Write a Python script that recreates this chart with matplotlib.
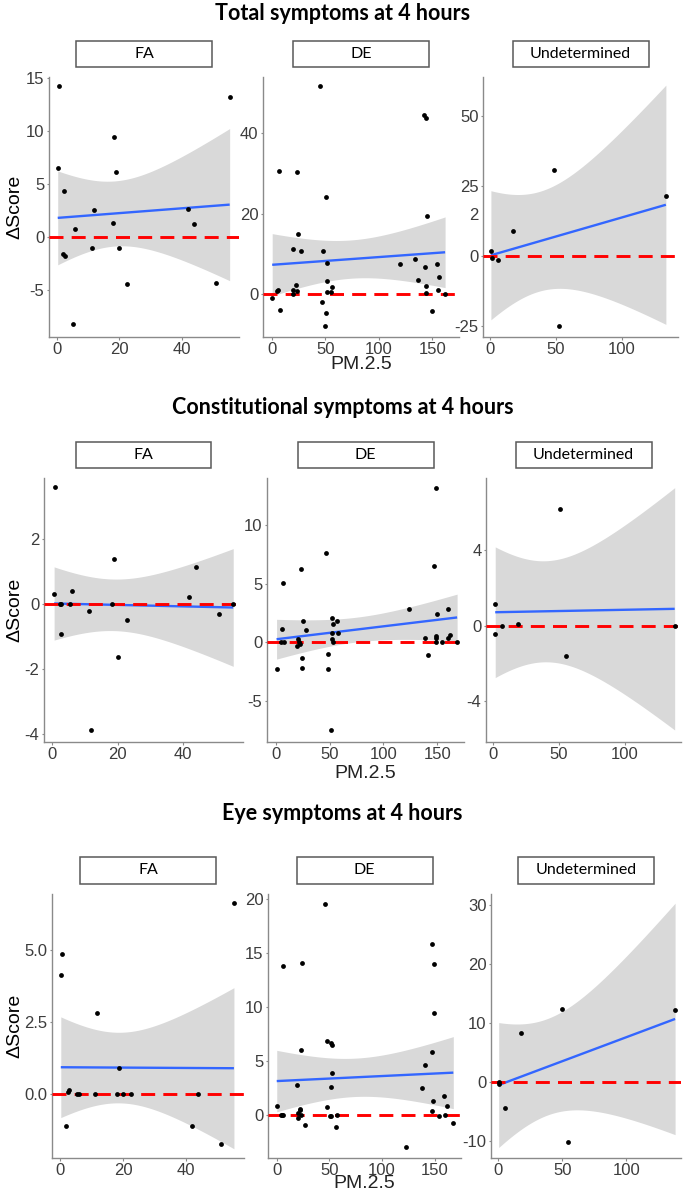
import math
import numpy as np
import matplotlib
matplotlib.use("Agg")
import matplotlib.pyplot as plt
from matplotlib.patches import Rectangle
from matplotlib.transforms import blended_transform_factory

# ---------------- data ----------------
titles = ["Total symptoms at 4 hours", "Constitutional symptoms at 4 hours", "Eye symptoms at 4 hours"]
groups = ["FA", "DE", "Undetermined"]
x_label = "PM.2.5"
y_label = "\u0394Score"

total_fa_x = [0.2, 0.7, 1.8, 2.3, 2.6, 5.1, 5.9, 11.2, 11.8, 18.1, 18.2, 18.8, 20.0, 22.5, 42.0, 43.8, 51.1, 55.4]
total_fa_y = [6.5, 14.2, -1.6, 4.3, -1.75, -8.2, 0.8, -1.0, 2.5, 1.3, 9.4, 6.1, -1.0, -4.4, 2.6, 1.2, -4.3, 13.2]
total_de_x = [0.3, 4.7, 5.6, 6.8, 7.8, 19.6, 19.6, 20.2, 22.4, 23.6, 23.9, 24.5, 27.0, 45.0, 47.2, 47.5, 49.5, 50.3,
              50.9, 51.2, 51.5, 51.9, 55.3, 56.2, 119.6, 134.2, 136.6, 142.5, 144.1, 145.0, 143.5, 144.4, 143.8,
              149.4, 154.3, 155.0, 156.5, 162.0]
total_de_y = [-1.0, 0.9, 1.2, 30.7, -3.9, 11.2, 0.0, 1.2, 2.2, 30.5, 0.9, 15.1, 10.8, 51.7, -1.8, 10.7, -7.9, -4.7,
              24.3, 0.6, 7.9, 3.2, 0.7, 1.9, 7.5, 8.9, 3.6, 44.5, 43.7, 19.5, 6.9, 2.1, 0.4,
              -4.1, 7.5, 1.2, 4.2, 0.2]
total_und_x = [0.5, 1.0, 5.6, 17.0, 48.3, 52.5, 133.3]
total_und_y = [1.8, -0.6, -1.4, 9.0, 30.9, -24.9, 21.5]

const_fa_x = [0.5, 0.9, 2.3, 2.5, 2.7, 5.4, 6.1, 11.3, 11.9, 18.3, 19.0, 20.0, 22.7, 42.0, 43.9, 51.1, 55.4]
const_fa_y = [0.32, 3.6, 0.0, 0.0, -0.91, 0.0, 0.41, -0.2, -3.88, 0.0, 1.4, -1.64, -0.5, 0.22, 1.14, -0.3, 0.0]
const_de_x = [0.6, 5.9, 6.8, 4.9, 7.1, 19.8, 21.0, 21.6, 22.6, 23.8, 24.4, 24.1, 25.0, 28.1, 46.7, 48.9, 48.9, 51.0,
              52.6, 53.2, 52.6, 52.0, 53.2, 57.2, 58.1, 123.4, 138.8, 141.3, 147.5, 148.8, 148.5, 149.1, 150.0,
              149.4, 154.7, 159.9, 160.5, 162.4, 168.6]
const_de_y = [-2.24, 1.16, 5.1, 0.0, 0.0, -0.34, 0.26, 0.0, -0.1, 6.25, -1.34, -2.13, 1.85, 1.05, 7.59, -1.0, -2.27,
              -7.47, 2.1, 1.56, 0.77, 0.26, 0.0, 1.85, 0.77, 2.84, 0.37, -1.05, 6.53, 13.18, 0.37, 0.57, 2.41,
              0.0, 0.0, 2.84, 0.37, 0.62, 0.0]
const_und_x = [1.5, 1.5, 6.5, 18.6, 50.5, 55.0, 137.7]
const_und_y = [1.13, -0.44, 0.0, 0.09, 6.17, -1.59, 0.0]

eye_fa_x = [0.2, 0.7, 2.0, 2.6, 2.8, 5.4, 6.0, 11.2, 11.7, 18.0, 18.7, 19.9, 22.5, 41.8, 43.8, 51.0, 55.2]
eye_fa_y = [4.12, 4.85, -1.11, 0.05, 0.12, 0.0, 0.0, 0.0, 2.79, 0.0, 0.9, 0.0, 0.0, -1.11, 0.0, -1.74, 6.62]
eye_de_x = [0.0, 3.8, 5.4, 6.4, 5.8, 19.5, 19.8, 20.4, 21.7, 22.4, 23.3, 23.0, 23.6, 27.2, 46.0, 47.9, 47.9, 51.1,
            51.8, 52.4, 50.5, 51.8, 52.7, 56.2, 57.5, 123.0, 138.3, 140.6, 147.3, 147.6, 148.9, 149.5, 148.6,
            147.9, 154.0, 159.1, 160.1, 161.7, 167.7]
eye_de_y = [0.87, 0.0, 0.0, 0.0, 13.8, 2.75, 0.2, -0.25, 0.6, 0.45, 0.0, 6.0, 14.1, -0.96, 19.5, 0.77, 6.86, 2.6,
            6.7, 6.5, -0.06, -0.06, 3.86, -1.1, 0.0, -2.94, 2.47, 4.64, 15.8, 5.87, 14.0, 9.43, 1.33,
            0.37, -0.06, 1.79, 0.0, 0.87, -0.77]
eye_und_x = [0.5, 1.0, 5.5, 17.8, 50.1, 54.3, 137.9]
eye_und_y = [0.0, -0.3, -4.4, 8.4, 12.5, -10.1, 12.25]

x_ticks = [[0, 20, 40], [0, 50, 100, 150], [0, 50, 100]]
y_ticks = [
    [[-5, 0, 5, 10, 15], [0, 20, 40], [-25, 0, 25, 50]],
    [[-4, -2, 0, 2], [-5, 0, 5, 10], [-4, 0, 4]],
    [[0.0, 2.5, 5.0], [0, 5, 10, 15, 20], [-10, 0, 10, 20, 30]],
]
y_fmt = [["{:g}"] * 3, ["{:g}"] * 3, ["{:.1f}", "{:g}", "{:g}"]]

data = [
    [(total_fa_x, total_fa_y), (total_de_x, total_de_y), (total_und_x, total_und_y)],
    [(const_fa_x, const_fa_y), (const_de_x, const_de_y), (const_und_x, const_und_y)],
    [(eye_fa_x, eye_fa_y), (eye_de_x, eye_de_y), (eye_und_x, eye_und_y)],
]

# ---------------- layout (pixels) ----------------
W, H = 685, 1194
rows = [
    dict(title_y=13, strip=(40.7, 66.7), top=77, bottom=337, xlab_y=364,
         panels=[(49, 239), (263, 459), (483, 678)],
         ylims=[(-9.4, 15.05), (-10.6, 54), (-29, 64)]),
    dict(title_y=408, strip=(442, 468), top=478, bottom=742, xlab_y=774,
         panels=[(44, 243), (267, 464), (486, 681)],
         ylims=[(-4.25, 3.89), (-8.47, 14.0), (-6.16, 7.83)]),
    dict(title_y=813, strip=(857, 884), top=894, bottom=1158, xlab_y=1184,
         panels=[(52, 244), (268, 461), (491, 681)],
         ylims=[(-2.23, 6.94), (-3.98, 20.46), (-12.8, 31.9)]),
]
xlims = [(-2.6, 58.4), (-8.3, 175.0), (-5.5, 142.5)]
strip_w = 136

AXIS_GREY = "#8a8a8a"
TICK_TXT = "#3c3c3c"
BAND = "#d9d9d9"
BLUE = "#3366ff"


def t975(df):
    c = math.exp(math.lgamma((df + 1) / 2) - math.lgamma(df / 2)) / math.sqrt(df * math.pi)
    lo, hi = 0.0, 20.0
    for _ in range(60):
        mid = (lo + hi) / 2
        ts = np.linspace(0, mid, 4001)
        p = 0.5 + np.trapezoid(c * (1 + ts ** 2 / df) ** (-(df + 1) / 2), ts)
        if p < 0.975:
            lo = mid
        else:
            hi = mid
    return (lo + hi) / 2


def lm_band(x, y):
    x = np.asarray(x, float)
    y = np.asarray(y, float)
    n = len(x)
    xb = x.mean()
    sxx = ((x - xb) ** 2).sum()
    b = ((x - xb) * (y - y.mean())).sum() / sxx
    a = y.mean() - b * xb
    s = np.sqrt(((y - (a + b * x)) ** 2).sum() / (n - 2))
    xs = np.linspace(x.min(), x.max(), 120)
    fit = a + b * xs
    se = s * np.sqrt(1 / n + (xs - xb) ** 2 / sxx)
    t = t975(n - 2)
    return xs, fit, fit - t * se, fit + t * se


fig = plt.figure(figsize=(W / 100, H / 100), dpi=100)
fig.patch.set_facecolor("white")

title_font = ["Lato", "DejaVu Sans"]
strip_font = ["Lato", "DejaVu Sans"]
axis_font = ["Liberation Sans", "DejaVu Sans"]

for r, row in enumerate(rows):
    fig.text(342.5 / W, 1 - row["title_y"] / H, titles[r], ha="center", va="center",
             fontsize=15.5, fontweight="bold", family=title_font, color="black")
    for c, (l, rr) in enumerate(row["panels"]):
        t, b = row["top"], row["bottom"]
        ax = fig.add_axes([l / W, 1 - b / H, (rr - l) / W, (b - t) / H])
        x, y = data[r][c]
        xs, fit, lo, hi = lm_band(x, y)
        ax.fill_between(xs, lo, hi, color=BAND, lw=0, zorder=1)
        ax.plot(xs, fit, color=BLUE, lw=1.7, zorder=2, solid_capstyle="butt")
        ax.axhline(0, color="#ff0000", lw=2.1, ls=(0, (4.8, 2.8)), zorder=3)
        ax.scatter(x, y, s=12, color="black", zorder=4, linewidths=0)
        ax.set_xlim(*xlims[c])
        ax.set_ylim(*row["ylims"][c])
        ax.set_xticks(x_ticks[c])
        ax.set_yticks(y_ticks[r][c])
        ax.set_yticklabels([y_fmt[r][c].format(v) for v in y_ticks[r][c]])
        for sp in ["top", "right"]:
            ax.spines[sp].set_visible(False)
        for sp in ["left", "bottom"]:
            ax.spines[sp].set_color(AXIS_GREY)
            ax.spines[sp].set_linewidth(1.0)
        ax.tick_params(axis="both", length=1.8, width=0.8, color=AXIS_GREY, labelcolor=TICK_TXT,
                       labelsize=12, pad=1.5)
        for lab in ax.get_xticklabels() + ax.get_yticklabels():
            lab.set_family(axis_font)
        ax.set_facecolor("white")
        # strip box
        cx = (l + rr) / 2
        s0, s1 = row["strip"]
        fig.patches.append(Rectangle(((cx - strip_w / 2) / W, 1 - s1 / H), strip_w / W, (s1 - s0) / H,
                                     transform=fig.transFigure, facecolor="white",
                                     edgecolor="#595959", lw=1.1))
        fig.text(cx / W, 1 - (s0 + s1) / 2 / H, groups[c], ha="center", va="center",
                 fontsize=11.5, family=strip_font, color="black")
        if c == 0:
            fig.text(15 / W, 1 - (t + b) / 2 / H, y_label, rotation=90, ha="center", va="center",
                     fontsize=14, family=axis_font, color="black")
        if c == 1:
            fig.text(cx / W, 1 - row["xlab_y"] / H, x_label, ha="center", va="center",
                     fontsize=14, family=axis_font, color="#222222")
        if r == 0 and c == 2:
            # stray "2" label present in the original figure
            tr = blended_transform_factory(ax.transAxes, ax.transData)
            ax.text(-0.025, 14.4, "2", transform=tr, ha="right", va="center", fontsize=12,
                    family=axis_font, color=TICK_TXT, clip_on=False)

fig.savefig("out.png", dpi=100, facecolor="white")
